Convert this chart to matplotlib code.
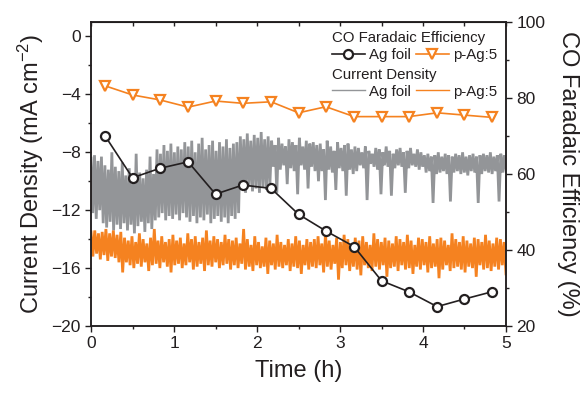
import numpy as np
import matplotlib
matplotlib.use("Agg")
import matplotlib.pyplot as plt
from matplotlib.ticker import MultipleLocator

plt.rcParams['font.family'] = ['Liberation Sans', 'DejaVu Sans']
plt.rcParams['mathtext.fontset'] = 'custom'
plt.rcParams['mathtext.rm'] = 'Liberation Sans'
plt.rcParams['mathtext.it'] = 'Liberation Sans:italic'

# CO faradaic efficiency (%) sampled every 20 min
fe_time = [0.17, 0.50, 0.83, 1.17, 1.50, 1.83, 2.17, 2.50, 2.83, 3.17, 3.50, 3.83, 4.17, 4.50, 4.83]
fe_ag_foil = [70.0, 59.0, 61.5, 63.2, 54.7, 57.1, 56.2, 49.4, 45.0, 40.9, 31.9, 29.0, 25.1, 27.1, 29.0]
fe_pag5 = [83.2, 80.8, 79.5, 77.6, 79.2, 78.6, 79.0, 76.1, 77.7, 75.1, 75.1, 75.1, 76.1, 75.5, 74.9]

# current density traces (mA cm-2), evenly spaced over 0-5 h
j_ag_foil = [
    -8.4, -12.2, -8.2, -12.6, -8.6, -12.0, -8.3, -12.9,
    -8.9, -13.2, -9.2, -12.8, -8.0, -13.4, -9.0, -13.0, -9.3, -13.3, -8.7, -12.9,
    -9.6, -13.4, -9.1, -13.0, -10.0, -13.6, -8.1, -13.1, -9.4, -12.8, -9.8, -13.5, -9.2, -12.9, -8.3, -13.3, -9.5, -12.7,
    -7.8, -12.5, -8.1, -12.2, -7.5, -12.7, -7.9, -12.4, -7.4, -12.6, -8.0, -12.3, -7.6, -12.7, -7.8, -12.2, -7.3, -12.5,
    -7.6, -12.8, -7.2, -12.4, -8.0, -12.9, -7.4, -12.5, -7.0, -12.7, -7.8, -12.3, -7.5, -12.9, -7.2, -12.6, -7.9, -12.4,
    -7.3, -12.8, -7.6, -12.5, -7.1, -12.9, -7.7, -12.4, -7.4, -12.6, -7.3, -12.2,
    -6.9, -10.6, -7.1, -10.8, -6.7, -10.4, -7.2, -10.7, -6.8, -10.5, -7.0, -10.8, -6.6, -10.4, -7.1, -10.6, -6.9, -10.3,
    -7.2, -9.0, -7.5, -10.8, -7.0, -9.2, -7.4, -8.9, -7.6, -10.2, -7.1, -9.1, -7.3, -9.3, -7.5, -10.9, -7.0, -8.9,
    -7.6, -9.2, -7.2, -10.5, -7.4, -9.0, -7.3, -9.3, -7.5, -10.0,
    -7.4, -9.3, -7.8, -11.3, -7.2, -9.2, -7.6, -9.4, -7.9, -10.6, -7.3, -9.1, -7.7, -9.3, -7.5, -11.0, -7.4, -9.2,
    -7.8, -9.5, -7.6, -9.3,
    -7.7, -8.9, -8.0, -9.1, -7.6, -11.3, -7.9, -8.8, -8.1, -9.0, -7.7, -9.2, -7.8, -10.9, -8.0, -8.9, -7.6, -9.0,
    -7.9, -11.0, -8.1, -9.1, -7.8, -8.9, -7.7, -9.0, -8.0, -10.8, -7.9, -9.1, -7.7, -8.9, -8.1, -9.0, -7.8, -9.2,
    -8.0, -9.0,
    -8.2, -9.4, -8.1, -9.3, -8.3, -11.5, -8.2, -9.5, -8.0, -9.4, -8.3, -9.3, -8.1, -9.5, -8.2, -11.4, -8.3, -9.4,
    -8.1, -9.3, -8.2, -9.5, -8.0, -9.4, -8.3, -9.6, -8.2, -9.3, -8.1, -9.4, -8.3, -11.5, -8.2, -9.5, -8.1, -9.3,
    -8.2, -9.4, -8.0, -9.5, -8.3, -9.3, -8.2, -11.4, -8.1, -9.4, -8.2, -9.3,
]
j_pag5 = [
    -13.5, -15.2, -13.4, -15.0, -13.6, -15.4, -13.5, -15.1, -13.3, -15.5, -13.6, -15.2, -13.4, -15.3, -13.7, -15.6,
    -13.5, -16.3,
    -13.9, -15.6, -14.1, -15.8, -13.8, -16.0, -14.2, -15.7, -13.6, -15.9, -14.0, -15.6, -14.3, -16.2, -13.9, -15.8,
    -13.3, -15.7, -14.1, -16.0, -13.8, -15.6, -14.2, -15.9, -14.0, -16.3, -13.7, -15.8, -14.1, -15.7, -13.9, -16.0,
    -14.3, -15.8, -13.6, -15.6, -14.0, -16.1, -13.8, -15.9, -14.2, -15.7, -13.9, -16.2, -13.4, -15.8, -14.1, -15.9,
    -13.8, -15.6, -14.0, -16.0, -14.2, -15.8, -13.7, -15.7, -14.0, -16.1,
    -14.1, -15.8, -13.9, -16.0, -14.3, -15.7, -13.3, -16.1, -14.0, -15.9, -14.4, -16.2, -13.8, -15.8, -14.2, -16.0,
    -14.5, -15.9, -13.9, -16.4, -14.1, -15.8, -14.3, -16.1, -13.7, -15.9, -14.2, -16.0, -14.4, -15.8, -14.0, -16.2,
    -14.3, -15.9, -13.8, -16.0, -14.1, -16.4, -14.4, -15.8, -14.0, -16.1, -14.2, -15.9,
    -14.0, -16.0, -13.8, -15.8, -14.3, -16.3, -13.6, -15.9, -14.1, -16.1, -14.4, -15.7, -13.9, -16.8, -14.2, -16.0,
    -13.7, -15.8, -14.0, -16.2, -14.3, -15.9, -13.9, -16.1, -14.1, -16.5, -13.8, -15.8, -14.2, -16.0, -14.4, -16.2,
    -13.6, -15.9, -14.0, -16.1, -14.2, -15.8, -13.9, -16.6, -14.1, -16.0, -14.3, -15.9, -13.8, -16.2, -14.0, -15.8,
    -14.2, -16.1, -13.7, -16.0, -14.1, -16.4, -14.4, -15.9, -13.9, -16.1, -14.0, -15.8, -14.2, -16.3, -13.8, -16.0,
    -14.3, -15.9, -14.0, -16.7, -13.9, -16.1, -14.1, -15.8, -14.4, -16.2, -13.6, -16.0, -14.0, -15.9, -14.2, -16.1,
    -13.8, -16.3, -14.1, -15.9, -14.3, -16.0, -13.9, -16.6, -14.0, -15.8, -14.2, -16.1, -13.7, -16.0, -14.1, -16.2,
    -14.3, -15.9, -13.9, -16.1, -14.0, -15.8, -14.2, -16.4,
]

GRAY = '#939598'
ORANGE = '#F58220'
INK = '#231F20'

fig = plt.figure(figsize=(5.82, 3.95), dpi=100)
ax = fig.add_axes([0.1564, 0.1747, 0.713, 0.7696])
ax2 = ax.twinx()

t_ag = np.linspace(0, 5, len(j_ag_foil))
t_pag = np.linspace(0, 5, len(j_pag5))
ax.plot(t_ag, j_ag_foil, color=GRAY, lw=2.0, solid_joinstyle='miter')
ax.plot(t_pag, j_pag5, color=ORANGE, lw=2.0, solid_joinstyle='miter')

ax2.plot(fe_time, fe_ag_foil, color=INK, lw=1.2, marker='o', ms=6.5,
         mfc='white', mec=INK, mew=1.6, zorder=4)
ax2.plot(fe_time, fe_pag5, color=ORANGE, lw=1.2, marker='v', ms=7.5,
         mfc='white', mec=ORANGE, mew=1.6, zorder=3)

ax.set_xlim(0, 5)
ax.set_ylim(-20, 1)
ax2.set_ylim(20, 100)

ax.xaxis.set_major_locator(MultipleLocator(1))
ax.xaxis.set_minor_locator(MultipleLocator(0.5))
ax.yaxis.set_major_locator(MultipleLocator(4))
ax.yaxis.set_minor_locator(MultipleLocator(2))
ax2.yaxis.set_major_locator(MultipleLocator(20))
ax2.yaxis.set_minor_locator(MultipleLocator(10))

for a in (ax, ax2):
    for s in a.spines.values():
        s.set_linewidth(1.1)
        s.set_color(INK)
    a.tick_params(which='major', direction='out', length=4, width=1.0,
                  color=INK, labelsize=12.5, labelcolor=INK)
    a.tick_params(which='minor', direction='out', length=2.5, width=1.0, color=INK)

top = ax.secondary_xaxis('top')
top.xaxis.set_major_locator(MultipleLocator(1))
top.xaxis.set_minor_locator(MultipleLocator(0.5))
top.tick_params(which='both', direction='in', length=3, width=1.0, color=INK, labeltop=False)

ax.set_xlabel('Time (h)', fontsize=17, color=INK, labelpad=6)
ax.set_ylabel('Current Density (mA cm$^{-2}$)', fontsize=17, color=INK, labelpad=4)
ax2.set_ylabel('CO Faradaic Efficiency (%)', fontsize=17, color=INK, rotation=270, labelpad=24)

# legend: two blocks with headers
h1 = ax.plot([], [], color=INK, lw=1.2, marker='o', ms=6.5, mfc='white', mec=INK, mew=1.6)[0]
h2 = ax.plot([], [], color=ORANGE, lw=1.2, marker='v', ms=7.5, mfc='white', mec=ORANGE, mew=1.6)[0]
h3 = ax.plot([], [], color=GRAY, lw=1.0)[0]
h4 = ax.plot([], [], color=ORANGE, lw=1.0)[0]

leg_kw = dict(ncol=2, frameon=False, fontsize=10.8, title_fontsize=10.8,
              handlelength=2.2, handletextpad=0.3, columnspacing=0.3,
              alignment='left', borderpad=0, borderaxespad=0, labelspacing=0.2)
leg1 = ax2.legend([h1, h2], ['Ag foil', 'p-Ag:5'], title='CO Faradaic Efficiency',
                  loc='upper left', bbox_to_anchor=(0.58, 0.97), **leg_kw)
ax2.add_artist(leg1)
leg2 = ax2.legend([h3, h4], ['Ag foil', 'p-Ag:5'], title='Current Density',
                  loc='upper left', bbox_to_anchor=(0.58, 0.85), **leg_kw)
for lg in (leg1, leg2):
    lg.get_title().set_color(INK)
    for tx in lg.get_texts():
        tx.set_color(INK)

fig.savefig('out.png', dpi=100)
